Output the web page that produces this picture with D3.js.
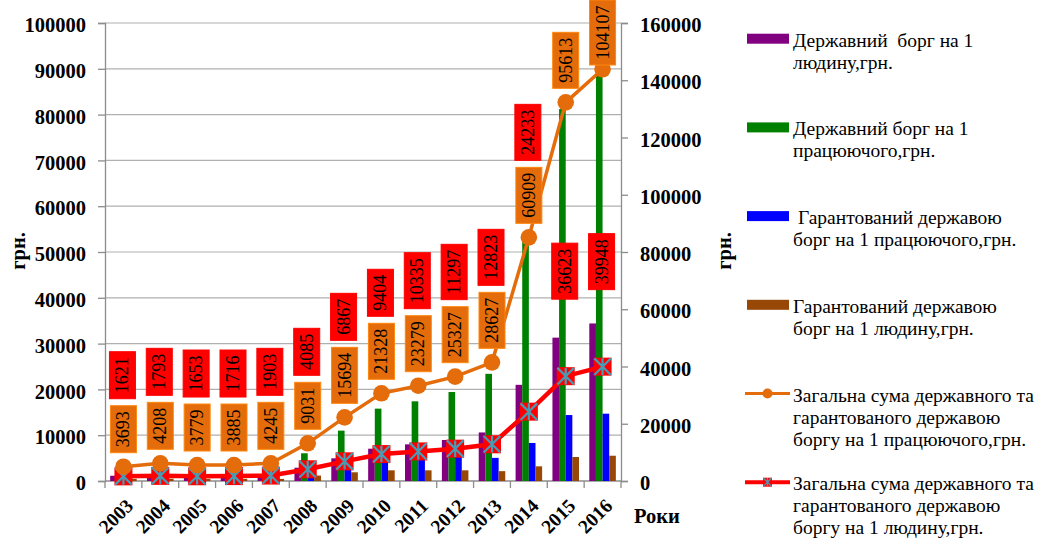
<!DOCTYPE html>
<html>
<head>
<meta charset="utf-8">
<script src="https://cdn.jsdelivr.net/npm/d3@7"></script>
<style>
  body { margin: 0; background: #fff; }
  svg text { font-family: "Liberation Serif", "Times New Roman", Times, "DejaVu Serif", serif !important; }
</style>
</head>
<body>
<div id="chart"></div>
<script>
// Years on the x axis
const years = ["2003","2004","2005","2006","2007","2008","2009","2010","2011","2012","2013","2014","2015","2016"];

// Bars (left axis, грн.)
const statePerPerson    = [1150, 1300, 1200, 1250, 1450, 2900, 4950, 7050, 8000, 8950, 10600, 21000, 31300, 34400];
const statePerWorker    = [2600, 3000, 2750, 2830, 3230, 6050, 11000, 15800, 17400, 19430, 23400, 52600, 81200, 89400];
const guarPerWorker     = [1090, 1200, 1030, 1050, 1020, 2980, 4700, 5500, 5900, 5900, 5050, 8300, 14400, 14700];
const guarPerPerson     = [470, 490, 450, 470, 450, 1185, 1900, 2330, 2330, 2330, 2150, 3200, 5240, 5520];

// Orange line: position (left axis) and its data labels
const totalPerWorkerPlot  = [3120, 3860, 3490, 3490, 3860, 8230, 13900, 19150, 20810, 22780, 25910, 53200, 82680, 89890];
const totalPerWorkerLabel = [3693, 4208, 3779, 3885, 4245, 9031, 15694, 21328, 23279, 25327, 28627, 60909, 95613, 104107];

// Red line (right axis) with its data labels
const totalPerPerson = [1621, 1793, 1653, 1716, 1903, 4085, 6867, 9404, 10335, 11297, 12823, 24233, 36623, 39948];

const leftTicks  = [0, 10000, 20000, 30000, 40000, 50000, 60000, 70000, 80000, 90000, 100000];
const rightTicks = [0, 20000, 40000, 60000, 80000, 100000, 120000, 140000, 160000];

const legendItems = [
  {type: "bar", color: "#800080", lines: ["Державний  борг на 1", "людину,грн."]},
  {type: "bar", color: "#008000", lines: ["Державний борг на 1", "працюючого,грн."]},
  {type: "bar", color: "#0000FF", lines: [" Гарантований державою", "борг на 1 працюючого,грн."]},
  {type: "bar", color: "#974706", lines: ["Гарантований державою", "борг на 1 людину,грн."]},
  {type: "circle", color: "#E46C0A", lines: ["Загальна сума державного та", "гарантованого державою", "боргу на 1 працюючого,грн."]},
  {type: "star", color: "#FF0000", lines: ["Загальна сума державного та", "гарантованого державою", "боргу на 1 людину,грн."]}
];

const W = 1039, H = 540;
const plot = {left: 105, right: 621, top: 23, bottom: 481};
const orange = "#E46C0A", red = "#FF0000", starColor = "#4A9AB4";
const serif = "'Liberation Serif', 'Times New Roman', Times, 'DejaVu Serif', serif";

const svg = d3.select("#chart").append("svg")
  .attr("width", W).attr("height", H)
  .attr("font-family", serif)
  .style("background", "#fff");

const x = d3.scaleBand().domain(years).range([plot.left, plot.right]);
const bw = x.bandwidth();
const sub = d3.scaleBand().domain([0, 1, 2, 3]).range([bw * 0.14, bw * 0.86]);
const yL = d3.scaleLinear().domain([0, 100000]).range([plot.bottom, plot.top]);
const yR = d3.scaleLinear().domain([0, 160000]).range([plot.bottom, plot.top]);

// Gridlines
svg.append("g")
  .selectAll("line")
  .data(leftTicks.slice(1))
  .join("line")
    .attr("x1", plot.left).attr("x2", plot.right)
    .attr("y1", d => yL(d)).attr("y2", d => yL(d))
    .attr("stroke", "#b0b0b0").attr("stroke-width", 1.2);

// Left axis
const axL = svg.append("g")
  .attr("transform", `translate(${plot.left},0)`)
  .call(d3.axisLeft(yL).tickValues(leftTicks).tickSize(7).tickPadding(12).tickFormat(d3.format("d")));
// Right axis
const axR = svg.append("g")
  .attr("transform", `translate(${plot.right},0)`)
  .call(d3.axisRight(yR).tickValues(rightTicks).tickSize(7).tickPadding(12).tickFormat(d3.format("d")));

[axL, axR].forEach(ax => {
  ax.attr("font-family", serif);
  ax.select(".domain").attr("stroke", "#8c8c8c").attr("stroke-width", 1.3);
  ax.selectAll(".tick line").attr("stroke", "#8c8c8c").attr("stroke-width", 1.3);
  ax.selectAll(".tick text")
    .attr("fill", "#000")
    .style("font-weight", "bold")
    .style("font-size", "20.5px")
    .attr("dy", "0.42em");
});

// X axis line, ticks at category boundaries, year labels
svg.append("line")
  .attr("x1", plot.left).attr("x2", plot.right)
  .attr("y1", plot.bottom).attr("y2", plot.bottom)
  .attr("stroke", "#8c8c8c").attr("stroke-width", 1.3);

const bounds = years.map(d => x(d)).concat([plot.right]);
svg.append("g")
  .selectAll("line")
  .data(bounds)
  .join("line")
    .attr("x1", d => d).attr("x2", d => d)
    .attr("y1", plot.bottom).attr("y2", plot.bottom + 7)
    .attr("stroke", "#8c8c8c").attr("stroke-width", 1.3);

svg.append("g")
  .selectAll("text")
  .data(years)
  .join("text")
    .attr("transform", d => `translate(${x(d) + bw / 2 + 11},${plot.bottom + 26}) rotate(-45)`)
    .attr("text-anchor", "end")
    .style("font-weight", "bold")
    .style("font-size", "19.5px")
    .text(d => d);

svg.append("text")
  .attr("x", 634).attr("y", 523)
  .style("font-weight", "bold").style("font-size", "20.5px")
  .text("Роки");

// Axis titles
svg.append("text")
  .attr("transform", "translate(25,251) rotate(-90)")
  .attr("text-anchor", "middle")
  .style("font-weight", "bold").style("font-size", "20.5px")
  .text("грн.");
svg.append("text")
  .attr("transform", "translate(731,251) rotate(-90)")
  .attr("text-anchor", "middle")
  .style("font-weight", "bold").style("font-size", "20.5px")
  .text("грн.");

// Bars
const barSeries = [statePerPerson, statePerWorker, guarPerWorker, guarPerPerson];
const barColors = ["#800080", "#008000", "#0000FF", "#974706"];
barSeries.forEach((vals, s) => {
  svg.append("g")
    .selectAll("rect")
    .data(vals)
    .join("rect")
      .attr("x", (d, i) => x(years[i]) + sub(s))
      .attr("width", sub.bandwidth())
      .attr("y", d => yL(d))
      .attr("height", d => plot.bottom - yL(d))
      .attr("fill", barColors[s]);
});

// Star marker (red square with a six-ray asterisk)
function starMarker(g, cx, cy, size) {
  const h = size / 2;
  g.append("rect")
    .attr("x", cx - h).attr("y", cy - h)
    .attr("width", size).attr("height", size)
    .attr("fill", red);
  const r = h * 0.92;
  g.append("path")
    .attr("d", `M${cx - r},${cy - r}L${cx + r},${cy + r}M${cx + r},${cy - r}L${cx - r},${cy + r}M${cx},${cy - r}L${cx},${cy + r}`)
    .attr("stroke", starColor).attr("stroke-width", size > 12 ? 2.2 : 1.3).attr("fill", "none");
}

// Red line (right axis)
svg.append("path")
  .datum(totalPerPerson)
  .attr("d", d3.line().x((d, i) => x(years[i]) + bw / 2).y(d => yR(d)))
  .attr("stroke", red).attr("stroke-width", 4.5).attr("fill", "none");
const redMarks = svg.append("g");
totalPerPerson.forEach((d, i) => starMarker(redMarks, x(years[i]) + bw / 2, yR(d), 18));

// Orange line (left axis)
svg.append("path")
  .datum(totalPerWorkerPlot)
  .attr("d", d3.line().x((d, i) => x(years[i]) + bw / 2).y(d => yL(d)))
  .attr("stroke", orange).attr("stroke-width", 3.5).attr("fill", "none");
svg.append("g")
  .selectAll("circle")
  .data(totalPerWorkerPlot)
  .join("circle")
    .attr("cx", (d, i) => x(years[i]) + bw / 2)
    .attr("cy", d => yL(d))
    .attr("r", 8.3)
    .attr("fill", orange);

// Data labels: rotated text in coloured boxes
const labels = svg.append("g");
function labelBox(cx, bottom, value, fill) {
  const t = labels.append("text")
    .attr("text-anchor", "middle")
    .style("font-size", "18px")
    .text(value);
  const len = t.node().getComputedTextLength();
  const h = len + 11, w = 26;
  let top = bottom - h;
  if (top < 0) top = 0;
  labels.insert("rect", () => t.node())
    .attr("x", cx - w / 2).attr("y", top)
    .attr("width", w).attr("height", h)
    .attr("fill", fill)
    .attr("stroke", d3.color(fill).brighter(0.6)).attr("stroke-width", 1);
  t.attr("transform", `translate(${cx + 6},${top + h / 2}) rotate(-90)`);
  return top;
}

totalPerWorkerLabel.forEach((v, i) => {
  const cx = x(years[i]) + bw / 2;
  const oTop = labelBox(cx, yL(totalPerWorkerPlot[i]) - 14, v, orange);
  const marker = yR(totalPerPerson[i]);
  const aboveOrange = oTop - 7;
  const bottom = (marker - aboveOrange > 300) ? marker - 77 : aboveOrange;
  labelBox(cx - 1, bottom, totalPerPerson[i], red);
});

// Legend
const lg = svg.append("g");
legendItems.forEach((item, k) => {
  const base = 46.7 + k * 88.7;
  const cy = base - 8;
  if (item.type === "bar") {
    lg.append("rect").attr("x", 747).attr("y", cy - 5).attr("width", 42).attr("height", 10).attr("fill", item.color);
  } else {
    lg.append("line").attr("x1", 745).attr("x2", 790).attr("y1", cy).attr("y2", cy)
      .attr("stroke", item.color).attr("stroke-width", item.type === "star" ? 4 : 3);
    if (item.type === "circle") {
      lg.append("circle").attr("cx", 767.5).attr("cy", cy).attr("r", 5).attr("fill", item.color);
    } else {
      starMarker(lg, 767.5, cy, 9);
    }
  }
  item.lines.forEach((line, j) => {
    lg.append("text")
      .attr("x", 793).attr("y", base + j * 22)
      .attr("xml:space", "preserve")
      .style("white-space", "pre")
      .style("font-size", "19.5px")
      .text(line);
  });
});
</script>
</body>
</html>
